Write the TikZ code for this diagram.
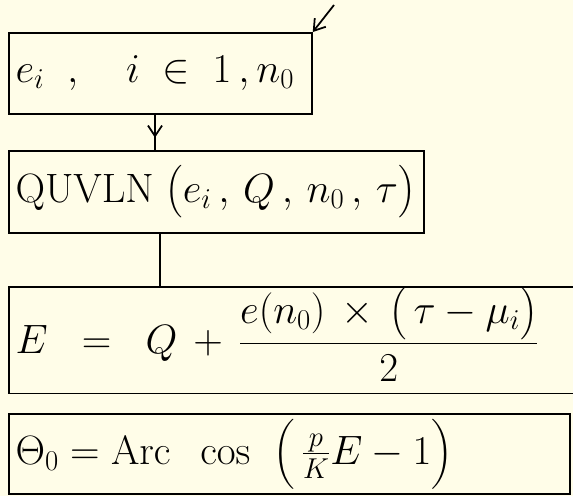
\documentclass[tikz,border=0pt]{standalone}
\usepackage{fix-cm}
\usepackage{amsmath}
\usetikzlibrary{arrows.meta,decorations.markings}
\definecolor{papel}{RGB}{255,253,232}
\tikzset{
  bloque/.style={draw, line width=1.5pt, anchor=north west, inner xsep=0.2cm, inner ysep=0pt,
    align=left, font=\fontsize{35}{40}\selectfont},
  flecha/.style={line width=1.5pt, -{Straight Barb[length=9pt,width=12pt]}},
  flechamedia/.style={line width=1.5pt, postaction={decorate},
    decoration={markings, mark=at position 0.65 with {\arrow{Straight Barb[length=9pt,width=12pt]}}}},
}
\begin{document}
\begin{tikzpicture}[x=0.03cm,y=-0.03cm]
  \useasboundingbox (0,0) rectangle (573,496);
  \clip (0,0) rectangle (573,496);
  \fill[papel] (0,0) rectangle (573,496);

  % Bloques
  \node[bloque, text width=8.69cm, minimum height=2.43cm] (datos) at (8,32)
    {$e_i\;\;,\quad i \;\in\; 1\,, n_0$};
  \node[bloque, text width=12.05cm, minimum height=2.46cm] (quvln) at (8,150)
    {$\mathrm{QUVLN}\;\bigl(e_i\,,\, Q\,,\, n_0\,,\, \tau\bigr)$};
  \node[bloque, text width=17.0cm, minimum height=2.82cm] (energia) at (8,286)
    {$E \;\;=\;\; Q \,+\, \dfrac{e(n_0)\,\times\,\bigl(\,\tau-\mu_i\bigr)}{2}$\rule[-34pt]{0pt}{0pt}};
  \node[bloque, text width=16.43cm, minimum height=2.4cm] (theta) at (8,413)
    {$\Theta_0 = \mathrm{Arc}\;\;\cos\;\;\Bigl(\,\frac{p}{K}E - 1\Bigr)$};

  % Conexiones
  \coordinate (entrada) at (334,5);
  \coordinate (x1) at (155,0);
  \coordinate (x2) at (160,0);
  \draw[flecha] (entrada) -- (datos.north east);
  \draw[flechamedia] (datos.south -| x1) -- (quvln.north -| x1);
  \draw[line width=1.5pt] (quvln.south -| x2) -- (energia.north -| x2);
\end{tikzpicture}
\end{document}
